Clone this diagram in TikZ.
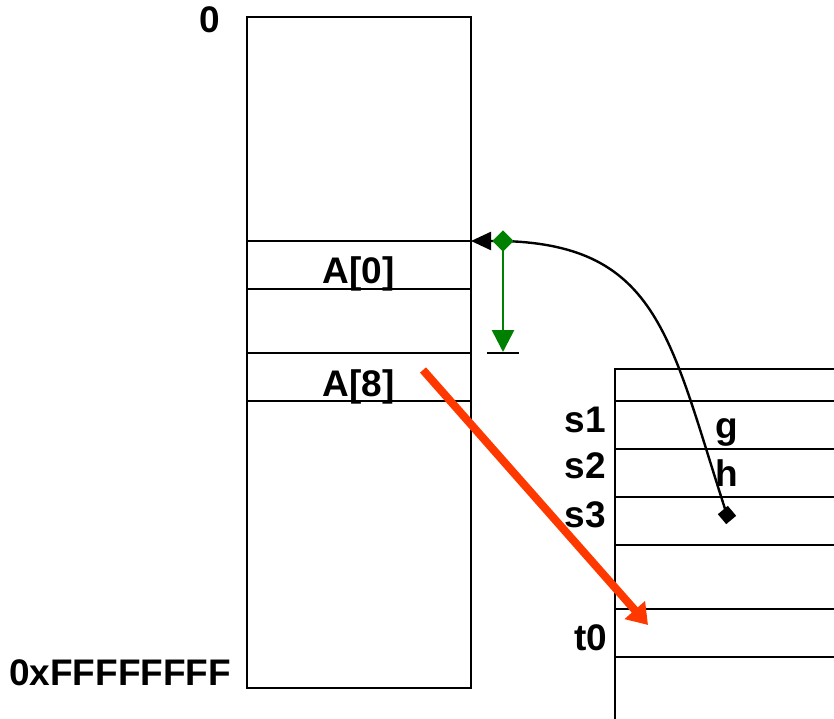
\documentclass[tikz,border=0pt]{standalone}
\usepackage{fontspec}
\setmainfont{Liberation Sans}
\usetikzlibrary{arrows.meta}
\definecolor{redarrow}{RGB}{255,56,0}
\definecolor{grn}{RGB}{0,128,0}
\begin{document}
\begin{tikzpicture}[x=1pt,y=-1pt,line width=2pt,
  box/.style={draw,rectangle,inner sep=0pt,outer sep=0pt,anchor=north west},
  lbl/.style={inner sep=0pt,font=\fontsize{37}{40}\selectfont\bfseries,anchor=base},
  lble/.style={lbl,anchor=base east},
  dmd/.style={inner sep=0pt,outer sep=0pt,minimum size=#1,draw=none}]
\useasboundingbox (0,0) rectangle (834,719);
% memory
\node[box,minimum width=224pt,minimum height=671pt] (mem) at (247,17) {};
\node[box,minimum width=224pt,minimum height=48pt] (c0) at (247,241) {};
\node[box,minimum width=224pt,minimum height=64pt] (c4) at (247,289) {};
\node[box,minimum width=224pt,minimum height=48pt] (c8) at (247,353) {};
\node[lbl] (l0) at (358.5,283) {A[0]};
\node[lbl] (l8) at (358.5,396) {A[8]};
\node[lbl] (zero) at (210,33) {0};
\node[lble] (ffff) at (232,685) {0xFFFFFFFF};
% registers
\node[box,minimum width=260pt,minimum height=32pt] (r0) at (615,369) {};
\node[box,minimum width=260pt,minimum height=48pt] (r1) at (615,401) {};
\node[box,minimum width=260pt,minimum height=48pt] (r2) at (615,449) {};
\node[box,minimum width=260pt,minimum height=48pt] (r3) at (615,497) {};
\node[box,minimum width=260pt,minimum height=64pt] (r4) at (615,545) {};
\node[box,minimum width=260pt,minimum height=48pt] (r5) at (615,609) {};
\node[box,minimum width=260pt,minimum height=90pt] (r6) at (615,657) {};
\node[lble] (s1) at (607,432) {s1};
\node[lble] (s2) at (607,478) {s2};
\node[lble] (s3) at (607,527) {s3};
\node[lble] (t0) at (608,650) {t0};
\node[lbl] (g) at (727,438) {g};
\node[lbl] (h) at (727,486) {h};
% black pointer curve
\coordinate (regp) at (727,515);
\coordinate (gp) at (503,241);
\draw[line width=2.4pt,-{Triangle[length=20pt,width=18pt]}] (regp) .. controls (670,340) and (660,245) .. (gp) -- (c0.north east);
\node[dmd=13pt,fill=black,rotate=40] (bd) at (regp) {};
% green offset arrow
\coordinate (gt) at (503,352);
\coordinate (tk1) at (487,352.5);
\coordinate (tk2) at (519,352.5);
\draw[grn,line width=2.6pt,-{Triangle[length=22pt,width=22pt]}] (gp) -- (gt);
\draw (tk1) -- (tk2);
\node[dmd=15pt,fill=grn,rotate=45] (gd) at (gp) {};
% red load arrow
\coordinate (rs) at (423,370);
\coordinate (re) at (648,625);
\draw[redarrow,line width=8pt,-{Triangle[length=20pt,width=26pt]}] (rs) -- (re);
\end{tikzpicture}
\end{document}
